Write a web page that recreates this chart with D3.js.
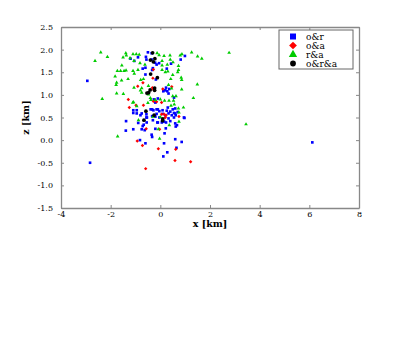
<!DOCTYPE html>
<html>
<head>
<meta charset="utf-8">
<script src="https://cdn.jsdelivr.net/npm/d3@7"></script>
<style>
  body { margin: 0; background: #fff; }
  .tick text { font-family: "DejaVu Serif", serif; font-size: 8px; fill: #000; }
  .axis path, .axis line { stroke: #888; }
  .axis-label { font-family: "DejaVu Serif", serif; font-size: 9.5px; font-weight: bold; }
  .legend-text { font-family: "DejaVu Serif", serif; font-size: 9px; }
</style>
</head>
<body>
<script>
// series: [x km, z km]
const orPoints = [
  [-2.94,1.31],[-2.83,-0.5],[6.12,-0.05],
  [-0.5,1.94],[-0.35,1.92],[-0.58,1.84],[-0.56,1.78],[-0.35,1.78],[-1.2,1.8],[-1.05,1.75],[-0.9,1.83],
  [-0.15,1.67],[-0.21,1.71],[-0.05,1.7],[0.43,1.69],[0.82,1.78],[0.99,1.86],
  [-0.6,1.6],[-0.71,1.58],[-0.33,1.55],[-0.3,1.59],[0.26,1.58],[-0.6,1.45],[-0.18,1.34],
  [0.23,1.16],[0.12,1.08],[0.2,1.1],[0.28,1.08],[0.36,1.13],[0.33,1.03],[0.55,0.94],[-0.1,0.92],[-0.26,0.9],[-0.2,0.83],
  [-1.09,0.66],[-0.95,0.66],[-1.09,0.6],[-0.75,0.59],[-0.39,0.68],[-0.28,0.66],[-0.15,0.68],[-0.04,0.64],[0.09,0.66],
  [0.26,0.65],[0.4,0.63],[0.5,0.68],[0.33,0.59],[0.2,0.55],[0.46,0.55],[0.6,0.59],[-0.33,0.53],[-0.2,0.52],[-0.54,0.5],
  [-0.04,0.5],[0.33,0.48],[-0.33,0.68],[-0.1,0.68],[0.3,0.72],[0.6,0.7],[0.7,0.62],[0.55,0.5],[0.95,0.5],[0.97,0.49],
  [-0.95,0.59],[-0.8,0.55],[-0.56,0.57],[-0.15,0.58],[0.1,0.58],[0.55,0.6],[0.62,0.55],[-0.56,0.5],[-0.3,0.44],
  [-0.1,0.39],[0.15,0.41],[0.4,0.42],[0.67,0.33],[0.6,0.37],[0.62,0.3],
  [-1.38,0.42],[-0.89,0.38],[-0.55,0.39],[-0.12,0.39],[0.06,0.39],[0.23,0.39],[-0.71,0.31],[-0.67,0.34],
  [-1.39,0.21],[-1.09,0.24],[-0.75,0.24],[-0.63,0.22],[-0.35,0.12],[-0.33,0.07],[-0.2,0.25],[0.22,0.26],[0.17,0.15],
  [-0.82,0.0],[-0.6,-0.07],[0.15,-0.07],[0.6,0.02],[0.86,-0.04],[0.65,-0.17],[0.28,-0.27],[0.12,-0.36]
];

const oaPoints = [
  [-0.28,1.56],[-0.3,1.37],[-0.7,1.27],[-0.32,1.16],[-0.29,1.13],[-0.91,1.19],[0.1,1.13],[0.46,1.18],
  [-1.29,0.9],[-0.28,0.86],[-1.25,0.72],[-0.98,0.77],[-0.68,0.77],[-0.15,0.85],[0.05,0.83],
  [0.05,0.57],[0.15,0.57],[0.23,0.55],[0.75,0.52],[0.2,0.5],[-0.57,0.25],[-0.03,0.24],
  [-0.93,-0.02],[-0.72,-0.12],[-0.08,-0.19],[0.62,-0.2],[0.59,-0.45],[1.22,-0.48],[-0.59,-0.63]
];

const raPoints = [
  [-2.4,1.94],[-2.13,1.84],[-2.63,1.75],[-1.39,1.92],[-1.37,1.87],[-1.5,1.83],[-1.1,1.9],[-0.97,1.9],[-0.85,1.89],
  [-1.22,1.81],[-1.06,1.75],[-0.13,1.92],[-0.05,1.88],[0.15,1.86],[0.39,1.87],[0.4,1.78],[0.8,1.87],[0.87,1.9],
  [1.26,1.94],[1.5,1.85],[1.67,1.8],[2.77,1.93],
  [-1.55,1.65],[-0.82,1.7],[-0.62,1.67],[0.07,1.75],[0.07,1.65],[0.28,1.67],[0.51,1.72],[0.73,1.64],[0.73,1.55],[0.7,1.5],
  [-1.73,1.53],[-1.6,1.53],[-1.46,1.53],[-1.38,1.54],[-1.1,1.53],[-1.05,1.47],[-0.9,1.55],[0.07,1.55],[0.2,1.5],[0.3,1.52],
  [-1.82,1.41],[-1.56,1.32],[-1.3,1.35],[-0.79,1.33],[-0.68,1.35],[0.42,1.35],[0.5,1.44],[0.86,1.33],[0.84,1.38],
  [-1.76,1.27],[-1.78,1.22],[-1.06,1.16],[-0.75,1.15],[-0.8,1.1],[-0.48,1.2],[0.33,1.22],[0.86,1.12],[1.49,1.23],[0.45,1.14],
  [-1.76,1.03],[-1.49,1.02],[-0.75,1.05],[-0.48,1.01],[0.5,0.97],[0.63,0.97],[1.33,0.93],
  [-2.34,0.91],[-1.11,0.83],[-0.4,0.93],[-0.38,0.89],[0.0,0.9],[0.17,0.87],[0.35,0.87],[0.53,0.87],[-0.2,0.89],
  [-1.08,0.84],[-0.95,0.75],[-0.5,0.82],[0.43,0.76],[0.56,0.79],[0.93,0.72],[0.73,0.7],[0.75,0.61],
  [-0.88,0.44],[0.0,0.51],[-0.3,0.52],[0.36,0.33],[0.75,0.41],[-0.08,0.24],[-1.72,0.08],[-0.03,0.03],[3.45,0.35]
];

const oraPoints = [
  [-0.31,1.93],[-0.4,1.77],[-0.28,1.73],[-0.22,1.8],[-0.39,1.46],[-0.12,1.38],[-0.23,1.15],[-0.23,1.1],
  [-0.41,1.11],[-0.54,1.04],[-0.47,1.05],[-0.58,0.64],[-0.66,0.44],[-0.25,0.55],[0.09,0.43],[0.1,0.47]
];

const seriesNames = ["o&r", "o&a", "r&a", "o&r&a"];
const seriesColors = ["#0000ff", "#ff0000", "#00cc00", "#000000"];
const xTicks = [-4, -2, 0, 2, 4, 6, 8];
const zTicks = [-1.5, -1.0, -0.5, 0.0, 0.5, 1.0, 1.5, 2.0, 2.5];

const margin = { top: 27, right: 50, bottom: 146, left: 61 };
const width = 298;
const height = 181;

const svg = d3.select("body")
    .append("svg")
    .attr("width", 409)
    .attr("height", 354)
    .append("g")
    .attr("transform", "translate(" + margin.left + "," + margin.top + ")");

const xScale = d3.scaleLinear().domain([-4, 8]).range([0, width]);
const yScale = d3.scaleLinear().domain([-1.5, 2.5]).range([height, 0]);

const fmtX = d => String(d).replace("\u2212", "-");
const fmtY = d => d.toFixed(1);

// bottom / left axes with inward ticks
svg.append("g")
    .attr("class", "axis")
    .attr("transform", "translate(0," + height + ")")
    .call(d3.axisBottom(xScale).tickValues(xTicks).tickSizeInner(-3).tickSizeOuter(0).tickPadding(3).tickFormat(fmtX));

svg.append("g")
    .attr("class", "axis")
    .call(d3.axisLeft(yScale).tickValues(zTicks).tickSizeInner(-3).tickSizeOuter(0).tickPadding(8).tickFormat(fmtY));

// top / right ticks, no labels
svg.append("g")
    .attr("class", "axis")
    .call(d3.axisTop(xScale).tickValues(xTicks).tickSizeInner(-3).tickSizeOuter(0).tickFormat(""));

svg.append("g")
    .attr("class", "axis")
    .attr("transform", "translate(" + width + ",0)")
    .call(d3.axisRight(yScale).tickValues(zTicks).tickSizeInner(-3).tickSizeOuter(0).tickFormat(""));

svg.selectAll(".axis path").style("stroke-width", "1.3px");

// axis labels
svg.append("text")
    .attr("class", "axis-label")
    .attr("x", width / 2)
    .attr("y", height + 19)
    .attr("text-anchor", "middle")
    .text("x [km]");

svg.append("text")
    .attr("class", "axis-label")
    .attr("transform", "rotate(-90)")
    .attr("x", -height / 2)
    .attr("y", -32)
    .attr("text-anchor", "middle")
    .text("z [km]");

const allSeries = [orPoints, oaPoints, raPoints, oraPoints];
// red diamond = square turned 45 degrees
const symbols = [d3.symbolSquare, d3.symbolSquare, d3.symbolTriangle, d3.symbolCircle];
const rotations = [0, 45, 0, 0];
const markSizes = [7, 6, 6, 11];
const legendSizes = [36, 30, 30, 26];

const plot = svg.append("g");

allSeries.forEach(function (pts, i) {
    plot.selectAll(".s" + i)
        .data(pts)
        .enter().append("path")
        .attr("class", "s" + i)
        .attr("d", d3.symbol().type(symbols[i]).size(markSizes[i]))
        .attr("transform", d => "translate(" + xScale(d[0]) + "," + yScale(d[1]) + ") rotate(" + rotations[i] + ")")
        .style("fill", seriesColors[i]);
});

// legend
const legend = svg.append("g")
    .attr("transform", "translate(" + (width - 80) + ",3)");

legend.append("rect")
    .attr("width", 74)
    .attr("height", 39)
    .style("fill", "#fff")
    .style("stroke", "#666")
    .style("stroke-width", "1px");

seriesNames.forEach(function (name, i) {
    const row = legend.append("g")
        .attr("transform", "translate(0," + (6.5 + i * 9) + ")");
    row.append("path")
        .attr("d", d3.symbol().type(symbols[i]).size(legendSizes[i]))
        .attr("transform", "translate(14,0) rotate(" + rotations[i] + ")")
        .style("fill", seriesColors[i]);
    row.append("text")
        .attr("class", "legend-text")
        .attr("x", 27)
        .attr("y", 3)
        .text(name);
});
</script>
</body>
</html>
